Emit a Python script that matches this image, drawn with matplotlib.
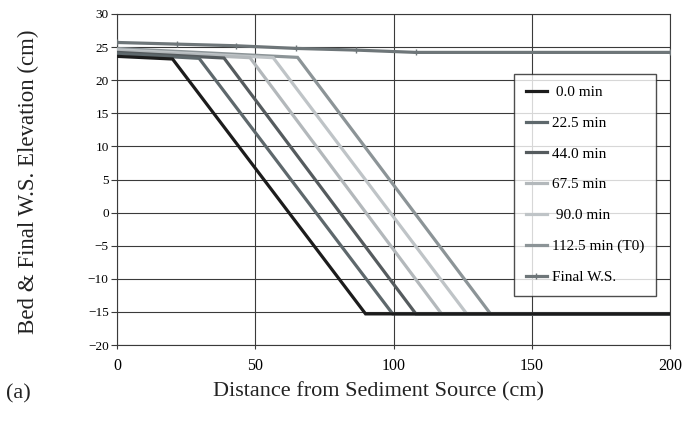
import matplotlib.pyplot as plt

plt.rcParams['font.family'] = ['Liberation Serif', 'DejaVu Serif']

# bed profiles: upstream elevation, top-set break point, toe of the foreset
labels = [" 0.0 min", "22.5 min", "44.0 min", "67.5 min", " 90.0 min", "112.5 min (T0)"]
start_z = [23.6, 24.0, 24.2, 24.4, 24.6, 24.8]
knee_x = [20.1, 29.7, 38.7, 48.1, 56.5, 65.3]
knee_z = [23.2, 23.3, 23.35, 23.4, 23.4, 23.45]
toe_x = [89.9, 99.7, 108.1, 117.4, 126.5, 135.1]
toe_z = -15.3
end_x = 200
colors = ["#1c1c1c", "#5e686c", "#555b5e", "#b3b8bb", "#bfc4c7", "#8c9497"]

# final water surface
ws_x = [0, 21.6, 43.2, 64.8, 86.4, 108.0, 200]
ws_z = [25.7, 25.45, 25.2, 24.8, 24.55, 24.2, 24.2]
ws_color = "#6e7679"

fig = plt.figure(figsize=(6.85, 4.22), dpi=100)
ax = fig.add_axes([117 / 685, 77 / 422, 553 / 685, 331 / 422])

for i in range(len(labels))[::-1]:
    xs = [0, knee_x[i], toe_x[i], end_x]
    zs = [start_z[i], knee_z[i], toe_z, toe_z]
    ax.plot(xs, zs, color=colors[i], lw=2.3, label=labels[i],
            zorder=3 + (len(labels) - i), solid_joinstyle='miter')

ax.plot(ws_x, ws_z, color=ws_color, lw=2.3, marker='+', ms=4, mew=1.0,
        label="Final W.S.", zorder=10)

ax.set_xlim(0, 200)
ax.set_ylim(-20, 30)
ax.set_xticks([0, 50, 100, 150, 200])
ax.set_yticks(range(-20, 31, 5))
ax.set_yticklabels([str(v).replace('-', '\u2212') for v in range(-20, 31, 5)])
ax.grid(True, color="#3a3a3a", lw=0.8)
ax.set_axisbelow(True)
for s in ax.spines.values():
    s.set_color("#3a3a3a")
    s.set_linewidth(0.8)
ax.tick_params(axis='y', labelsize=9.5, length=4, width=0.8, color="#3a3a3a", pad=2)
ax.tick_params(axis='x', labelsize=11.5, length=3, width=0.8, color="#3a3a3a", pad=6)

handles, labs = ax.get_legend_handles_labels()
order = list(range(len(labels)))[::-1] + [len(labels)]
leg = ax.legend([handles[k] for k in order], [labs[k] for k in order],
                loc='upper left', bbox_to_anchor=(0.718, 0.819), fontsize=11,
                frameon=True, fancybox=False, edgecolor="#222222",
                handlelength=1.4, handletextpad=0.35, labelspacing=1.12,
                borderpad=0.75, borderaxespad=0)
leg.get_frame().set_linewidth(1.0)
leg.set_zorder(20)

fig.text(28 / 685, 1 - 182 / 422, "Bed & Final W.S. Elevation (cm)", rotation=90,
         ha='center', va='center', fontsize=16.5, color="#222222")
fig.text(379 / 685, 1 - 392 / 422, "Distance from Sediment Source (cm)",
         ha='center', va='center', fontsize=16, color="#222222")
fig.text(6 / 685, 1 - 394 / 422, "(a)", ha='left', va='center', fontsize=16,
         color="#222222")

fig.savefig("out.png", dpi=100)
